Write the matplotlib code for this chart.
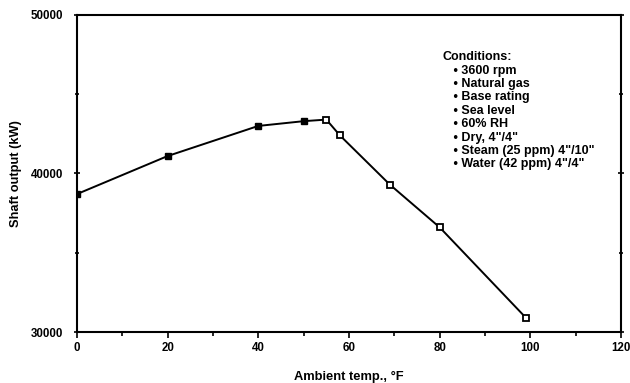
import matplotlib
matplotlib.use("Agg")
import matplotlib.pyplot as plt
from matplotlib.ticker import MultipleLocator

plt.rcParams['font.family'] = ['Liberation Sans', 'DejaVu Sans']
plt.rcParams['font.weight'] = 'bold'

# data
temp_f = [0, 20, 40, 50, 55, 58, 69, 80, 99]
shaft_kw = [38700, 41100, 43000, 43300, 43400, 42400, 39300, 36600, 30900]
n_filled = 4  # first points drawn as filled squares, rest open

conditions_title = "Conditions:"
conditions = ["3600 rpm", "Natural gas", "Base rating", "Sea level",
              "60% RH", "Dry, 4\"/4\"", "Steam (25 ppm) 4\"/10\"",
              "Water (42 ppm) 4\"/4\""]

fig = plt.figure(figsize=(6.3, 3.83), dpi=100)
ax = fig.add_axes([0.122, 0.133, 0.864, 0.828])

ax.plot(temp_f, shaft_kw, color="black", lw=1.4, zorder=2)
ax.plot(temp_f[:n_filled], shaft_kw[:n_filled], ls="none", marker="s",
        ms=5, mfc="black", mec="black", zorder=3)
ax.plot(temp_f[n_filled:], shaft_kw[n_filled:], ls="none", marker="s",
        ms=5, mfc="white", mec="black", mew=1.3, zorder=3)

ax.set_xlim(0, 120)
ax.set_ylim(30000, 50000)
ax.xaxis.set_major_locator(MultipleLocator(20))
ax.xaxis.set_minor_locator(MultipleLocator(10))
ax.yaxis.set_major_locator(MultipleLocator(10000))
ax.yaxis.set_minor_locator(MultipleLocator(5000))

for s in ax.spines.values():
    s.set_linewidth(1.5)

ax.tick_params(which="both", direction="out", width=1.2, labelsize=8.3)
ax.tick_params(which="major", length=4)
ax.tick_params(which="minor", length=3)
ax.tick_params(axis="y", which="both", right=True, direction="inout")
ax.tick_params(axis="y", pad=8)

ax.set_xlabel("Ambient temp., \u00b0F", fontsize=9.3, fontweight="bold", labelpad=12)
ax.set_ylabel("Shaft output (kW)", fontsize=9.3, fontweight="bold", labelpad=6)

txt = conditions_title + "\n" + "\n".join("   \u2022 " + c for c in conditions)
ax.text(0.672, 0.885, txt, transform=ax.transAxes, fontsize=9,
        fontweight="bold", va="top", ha="left", linespacing=1.15)

fig.savefig("out.png", dpi=100)
